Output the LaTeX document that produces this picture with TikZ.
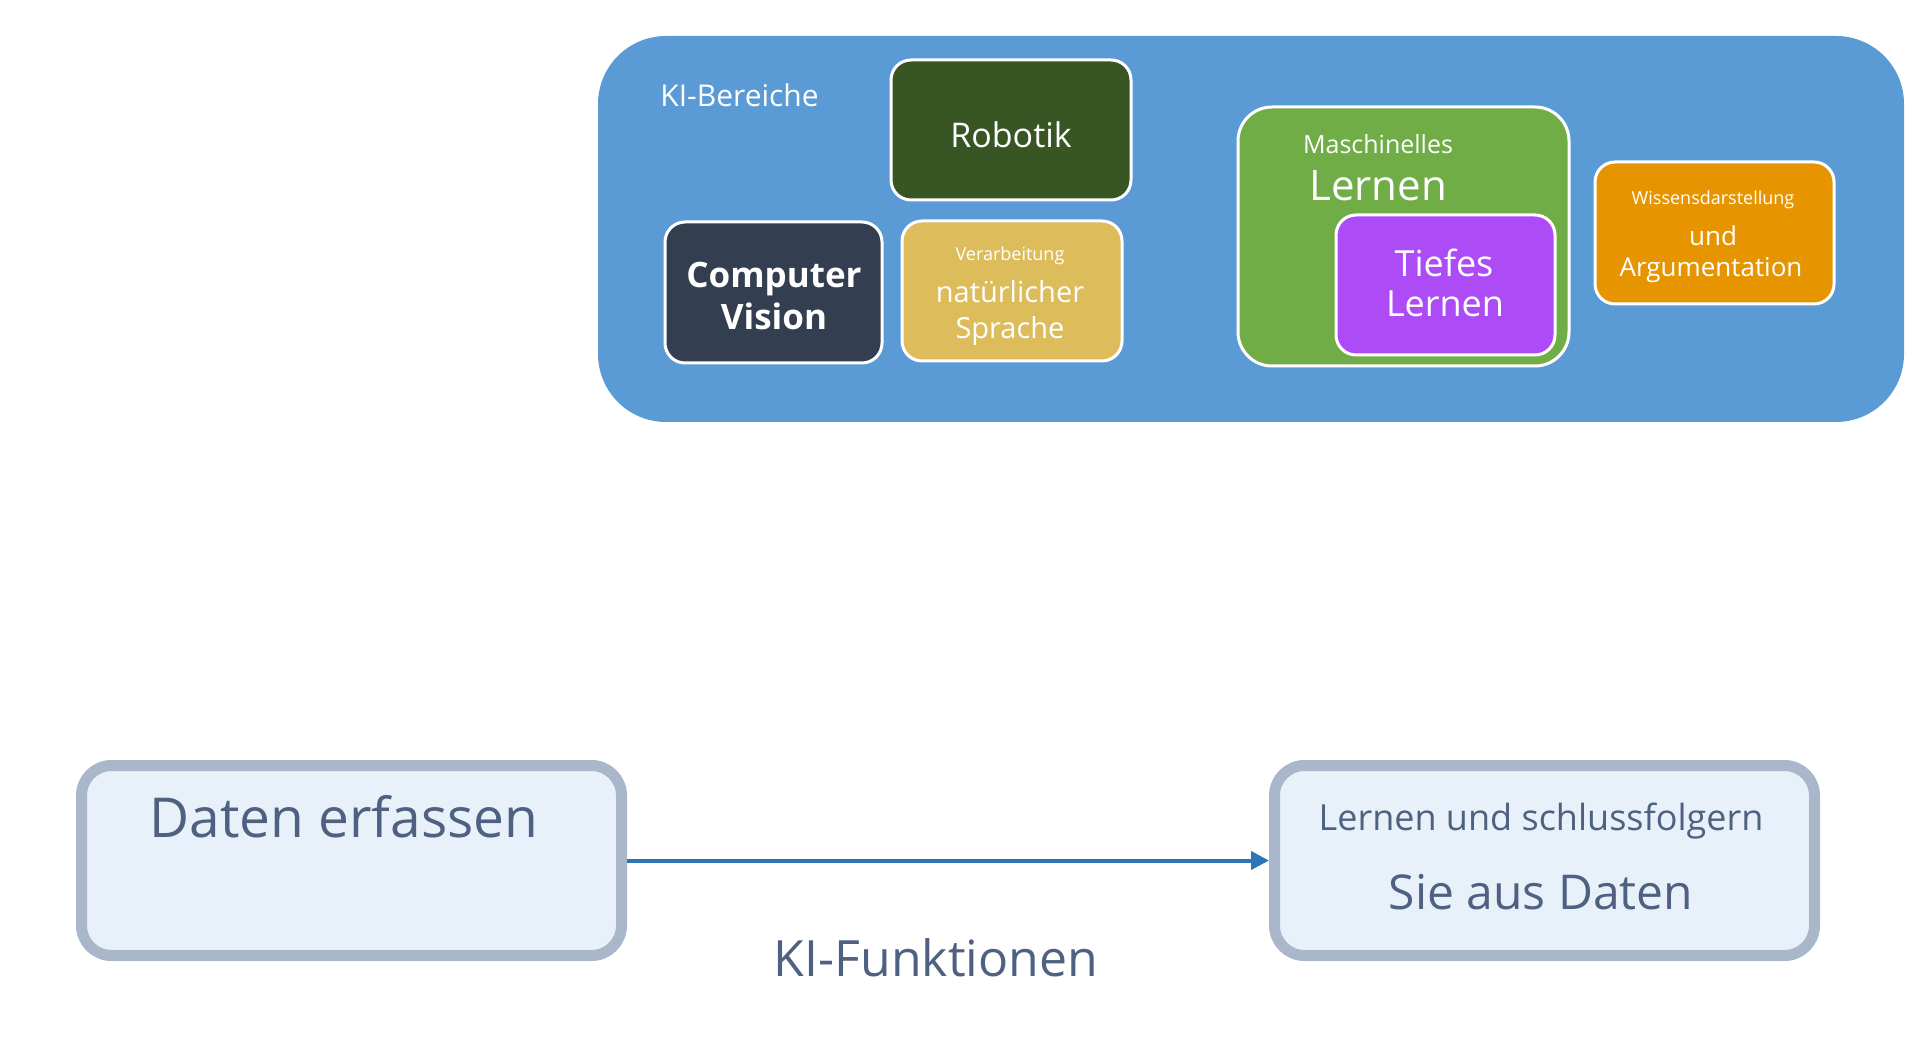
\documentclass[tikz,border=0pt]{standalone}
\usepackage{fontspec}
\setmainfont{Open Sans}
\usetikzlibrary{arrows.meta}
\definecolor{panelblue}{HTML}{5B9BD5}
\definecolor{robgreen}{HTML}{375623}
\definecolor{cvslate}{HTML}{333F50}
\definecolor{nlpgold}{HTML}{DCBC5B}
\definecolor{mlgreen}{HTML}{70AD47}
\definecolor{dlpurple}{HTML}{AD4CF7}
\definecolor{kroorange}{HTML}{E69500}
\definecolor{boxfill}{HTML}{E8F0FA}
\definecolor{boxline}{HTML}{AAB7CB}
\definecolor{txtdark}{HTML}{4E6180}
\definecolor{arrowblue}{HTML}{2E75B6}
\newcommand{\fsz}[1]{\fontsize{#1pt}{#1pt}\selectfont}
\tikzset{
  area/.style={draw=white, line width=1.5pt, rounded corners=10pt, inner sep=0pt},
  fnbox/.style={draw=boxline, fill=boxfill, line width=5.5pt, rounded corners=15pt, inner sep=0pt,
    minimum width=270pt, minimum height=95pt},
  wt/.style={text=white, inner sep=0pt, anchor=center},
  dt/.style={text=txtdark, inner sep=0pt, anchor=center},
}
\begin{document}
\begin{tikzpicture}[x=0.5pt,y=-0.5pt]
\useasboundingbox (0,0) rectangle (1927,1037);
% panel
\node[fill=panelblue, rounded corners=34pt, minimum width=653pt, minimum height=193pt, inner sep=0pt] (panel) at (1251,229) {};
\node[wt, anchor=west] (kib) at (660,95) {\fsz{15}KI-Bereiche};
% Robotik
\node[area, fill=robgreen, minimum width=120pt, minimum height=70pt] (rob) at (1011,130) {};
\node[wt] (robt) at (1011,135) {\fsz{17}Robotik};
% Computer Vision
\node[area, fill=cvslate, minimum width=108.5pt, minimum height=70.5pt] (cv) at (773.5,292.5) {};
\node[wt] (cv1) at (774,279) {\fsz{17.5}\bfseries Computer};
\node[wt] (cv2) at (774,316) {\fsz{17.5}\bfseries Vision};
% NLP
\node[area, fill=nlpgold, minimum width=110pt, minimum height=70pt] (nlp) at (1012,291) {};
\node[wt] (nlp1) at (1010,256) {\fsz{9}Verarbeitung};
\node[wt] (nlp2) at (1010,292) {\fsz{14.5}natürlicher};
\node[wt] (nlp3) at (1010,331) {\fsz{14.5}Sprache};
% ML
\node[area, fill=mlgreen, rounded corners=17pt, minimum width=165.5pt, minimum height=129.5pt] (ml) at (1403.5,236.5) {};
\node[wt] (ml1) at (1378,144) {\fsz{12.5}Maschinelles};
\node[wt] (ml2) at (1378,186) {\fsz{21}Lernen};
% Deep learning
\node[area, fill=dlpurple, minimum width=109.5pt, minimum height=70pt] (dl) at (1445.5,285) {};
\node[wt] (dl1) at (1444,263) {\fsz{18}Tiefes};
\node[wt] (dl2) at (1445,304) {\fsz{18}Lernen};
% Knowledge representation
\node[area, fill=kroorange, minimum width=119.5pt, minimum height=71pt] (kr) at (1714.5,233) {};
\node[wt] (kr1) at (1713,200) {\fsz{9}Wissensdarstellung};
\node[wt] (kr2) at (1713,236) {\fsz{13}und};
\node[wt] (kr3) at (1711,270) {\fsz{13}Argumentation};
% bottom
\node[fnbox] (dat) at (351.5,860.5) {};
\node[dt] (datt) at (344,817) {\fsz{27.5}Daten erfassen};
\node[fnbox] (lrn) at (1544.5,860.5) {};
\node[dt] (lrn1) at (1541,821) {\fsz{18}Lernen und schlussfolgern};
\node[dt] (lrn2) at (1541,892) {\fsz{24}Sie aus Daten};
\draw[arrowblue, line width=2pt, -{Triangle[length=9pt,width=9pt]}] (dat.east) -- (lrn.west);
\node[dt] (kif) at (936,958) {\fsz{25}KI-Funktionen};
\end{tikzpicture}
\end{document}
